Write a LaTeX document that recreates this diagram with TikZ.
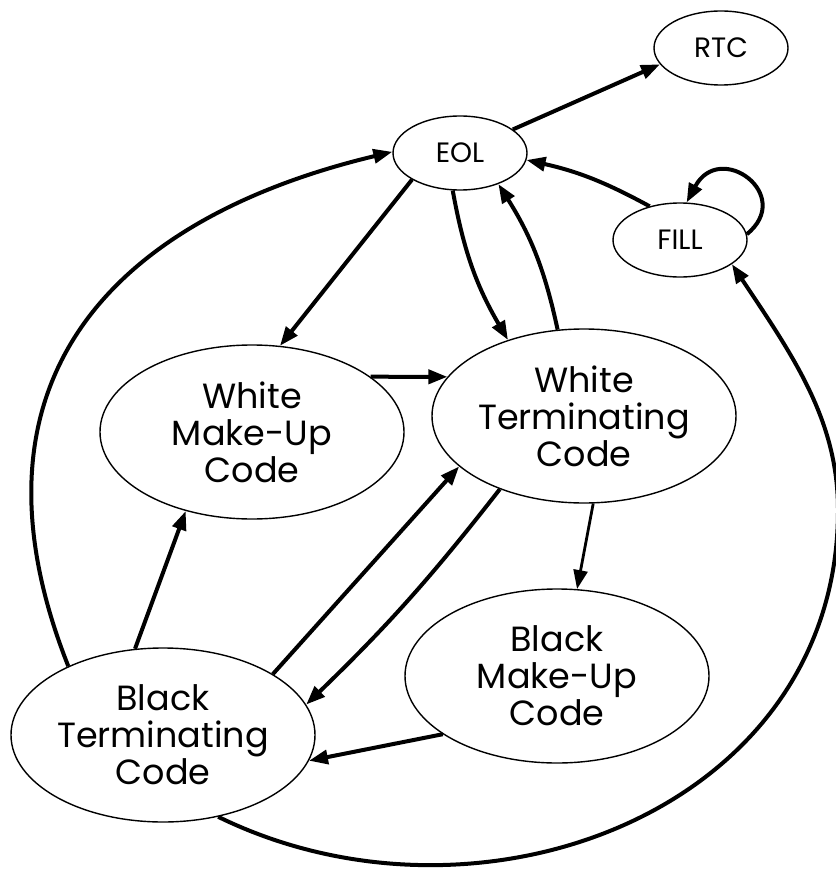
\documentclass[tikz,border=0pt]{standalone}
\usepackage{fontspec}
\setmainfont{Poppins}
\usetikzlibrary{arrows.meta,shapes.geometric}
\begin{document}
\begin{tikzpicture}[x=1pt,y=-1pt,
  big/.style={ellipse,draw,line width=1.4pt,minimum width=304pt,minimum height=174pt,inner sep=0pt,align=center,font=\fontsize{35}{37}\selectfont},
  small/.style={ellipse,draw,line width=1.4pt,minimum width=134pt,minimum height=74pt,inner sep=0pt,font=\fontsize{28}{28}\selectfont},
  conn/.style={line width=4pt,-{Triangle[length=19pt,width=14pt]}},
  thinconn/.style={line width=2.8pt,-{Triangle[length=19pt,width=14pt]}}
]
\useasboundingbox (0,0) rectangle (835,869);
\node[small] (RTC) at (721,48) {RTC};
\node[small] (EOL) at (460,153) {EOL};
\node[small] (FILL) at (680,240) {FILL};
\node[big] (WMU) at (252,432) {White\\Make-Up\\Code};
\node[big] (WTC) at (584,416) {White\\Terminating\\Code};
\node[big] (BMU) at (557,676) {Black\\Make-Up\\Code};
\node[big] (BT) at (163,735) {Black\\Terminating\\Code};
\coordinate (R) at (838,510);

\draw[conn] (EOL.24) -- (RTC.195);
\draw[conn] (BT.144) .. controls (-42,388) and (104,221) .. (EOL.179);
\draw[conn] (EOL.209) -- (WMU.72);
\draw[conn] (WMU.25) -- (WTC.164);
\draw[conn] (EOL.259) to[bend right=10] (WTC.135);
\draw[conn] (WTC.107) to[bend right=10] (EOL.321);
\draw[conn] (FILL.132) to[bend right=8] (EOL.354);
\draw[conn] (FILL.5) .. controls (795,195) and (720,140) .. (FILL.80);
\draw[thinconn] (WTC.276) -- (BMU.77);
\draw[conn] (BMU.207) -- (BT.350);
\draw[conn] (BT.29) -- (WTC.202);
\draw[conn] (WTC.221) to[bend left=4] (BT.12);
\draw[conn] (BT.108) -- (WMU.230);
\draw[conn] (BT.304) .. controls (480,945) and (838,810) .. (R) .. controls (838,420) and (793,356) .. (FILL.335);
\end{tikzpicture}
\end{document}
